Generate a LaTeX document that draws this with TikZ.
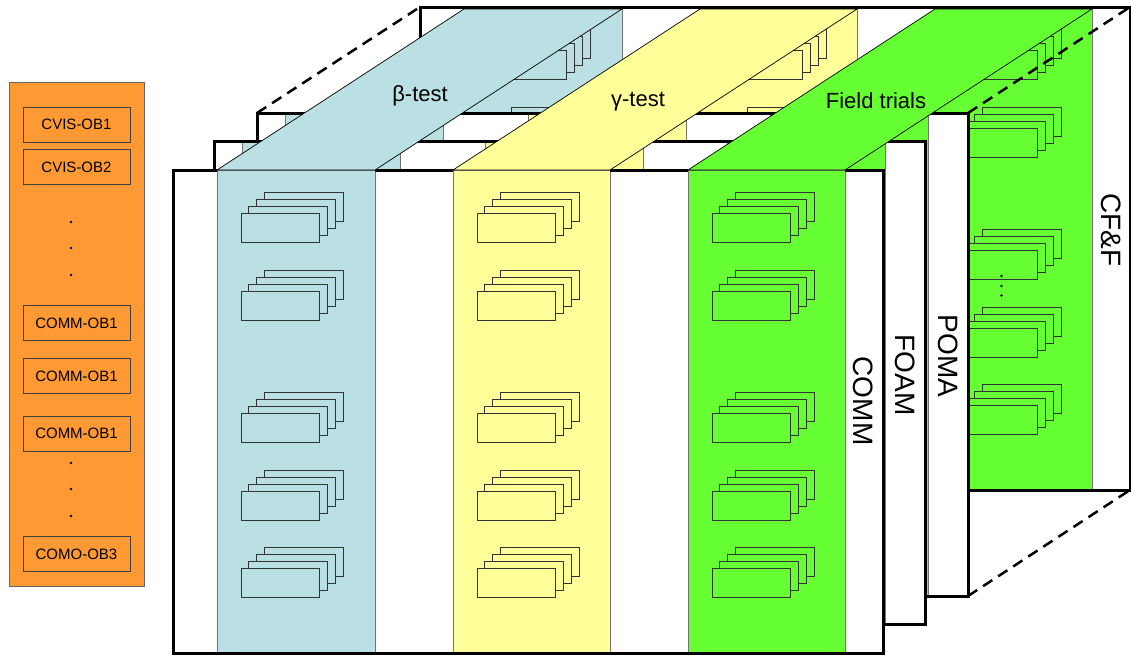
\documentclass[tikz,border=0pt]{standalone}
\usepackage{fontspec}
\setmainfont{Liberation Sans}
\begin{document}
\begin{tikzpicture}[x=1pt,y=-1pt]
\definecolor{panelorange}{HTML}{FF9933}
\definecolor{betablue}{HTML}{BAE0E3}
\definecolor{gammayellow}{HTML}{FFFF99}
\definecolor{fieldgreen}{HTML}{66FF33}
\tikzset{
  frameline/.style={line width=3pt, draw=black, line join=miter},
  bandline/.style={draw=black!55, line width=0.8pt},
  cardline/.style={draw=black!80, line width=0.9pt},
  topface/.style={draw=black, line width=0.7pt, line join=miter},
  dashline/.style={line width=2.5pt, dash pattern=on 11pt off 7pt},
  obbox/.style={draw=black!75, line width=0.8pt, fill=panelorange,
    minimum width=107pt, minimum height=35pt, inner sep=0pt,
    font=\fontsize{15}{18}\selectfont},
  layerlabel/.style={rotate=-90, font=\fontsize{28}{32}\selectfont, inner sep=0pt},
  phaselabel/.style={font=\fontsize{22}{26}\selectfont, inner sep=0pt},
  smalldot/.style={circle, fill=black, inner sep=0pt, minimum size=2.8pt},
}
% a stack of four cards; #1,#2 = top-left of the front card, #3 = fill
\newcommand\cardstack[3]{%
  \foreach \k in {3,2,1,0}{%
    \draw[cardline, fill=#3] ({#1+7.8*\k},{#2-7*\k}) rectangle ++(78.6,29);}}
\useasboundingbox (0,0) rectangle (1131,656);

% ---------- objective list ----------
\draw[draw=black!60, line width=0.8pt, fill=panelorange] (9,82) rectangle (144,586);
\node[obbox] (cvis1) at (76.5,124.5) {CVIS-OB1};
\node[obbox] (cvis2) at (76.5,167) {CVIS-OB2};
\node[smalldot] (ld1) at (71,222) {};
\node[smalldot] (ld2) at (71,248) {};
\node[smalldot] (ld3) at (71,275) {};
\node[obbox] (comm1) at (76.5,323) {COMM-OB1};
\node[obbox] (comm2) at (76.5,376) {COMM-OB1};
\node[obbox] (comm3) at (76.5,433.5) {COMM-OB1};
\node[smalldot] (ld4) at (71,463) {};
\node[smalldot] (ld5) at (71,489) {};
\node[smalldot] (ld6) at (71,516) {};
\node[obbox] (como3) at (76.5,554) {COMO-OB3};

% ---------- back layer: CF&F ----------
\fill[white] (420,7) rectangle (1130,490);
\foreach \l/\r/\c in {44/202/betablue, 280/437/gammayellow, 515/672/fieldgreen}{
  \draw[bandline, fill=\c] (420+\l,7) rectangle (420+\r,490);
  \foreach \t in {43,121,243,321,398}{\cardstack{420+\l+24}{7+\t}{\c}}
}
\node[smalldot] (bd1) at (1001.5,276) {};
\node[smalldot] (bd2) at (1001.5,286) {};
\node[smalldot] (bd3) at (1001.5,295.5) {};
\node[layerlabel] (cff) at (1111,230) {CF\&F};
\draw[frameline] (420,7) rectangle (1130,490);

% ---------- POMA layer ----------
\fill[white] (257,113) rectangle (968,596);
\foreach \l/\r/\c in {28/186/betablue, 271/429/gammayellow, 513/671/fieldgreen}{
  \draw[bandline, fill=\c] (257+\l,113) rectangle (257+\r,596);
}
\node[layerlabel] (poma) at (948,356) {POMA};
\draw[frameline] (257,113) rectangle (968,596);

% ---------- FOAM layer ----------
\fill[white] (214,141) rectangle (925,624);
\foreach \l/\r/\c in {28/186/betablue, 271/429/gammayellow, 513/671/fieldgreen}{
  \draw[bandline, fill=\c] (214+\l,141) rectangle (214+\r,624);
}
\node[layerlabel] (foam) at (905,375) {FOAM};
\draw[frameline] (214,141) rectangle (925,624);

% ---------- front layer: COMM ----------
\fill[white] (173,170) rectangle (883,653);
\foreach \l/\r/\c in {44/202/betablue, 280/437/gammayellow, 515/672/fieldgreen}{
  \draw[bandline, fill=\c] (173+\l,170) rectangle (173+\r,653);
  \foreach \t in {43,121,243,321,398}{\cardstack{173+\l+24}{170+\t}{\c}}
}
\node[layerlabel] (comm) at (863,401) {COMM};
\draw[frameline] (217,170) -- (173,170) -- (173,653) -- (883,653) -- (883,170) -- (845,170);
\draw[frameline] (375,170) -- (453,170);
\draw[frameline] (610,170) -- (688,170);

% ---------- depth edges ----------
\coordinate (poma-tl) at (257,113);
\coordinate (poma-tr) at (968,113);
\coordinate (poma-br) at (968,596);
\coordinate (back-tl) at (420,7);
\coordinate (back-tr) at (1130,7);
\coordinate (back-br) at (1130,490);
\draw[dashline] (poma-tl) -- (back-tl);
\draw[dashline] (poma-tr) -- (back-tr);
\draw[dashline] (poma-br) -- (back-br);

% ---------- top faces of the phase columns ----------
\foreach \l/\r/\c in {44/202/betablue, 280/437/gammayellow, 515/672/fieldgreen}{
  \draw[topface, fill=\c] (173+\l,170) -- (173+\r,170) -- (420+\r,9) -- (420+\l,9) -- cycle;
}
\node[phaselabel] (beta) at (420,96) {β-test};
\node[phaselabel] (gamma) at (638,102) {γ-test};
\node[phaselabel] (field) at (876,101) {Field trials};
\end{tikzpicture}
\end{document}
